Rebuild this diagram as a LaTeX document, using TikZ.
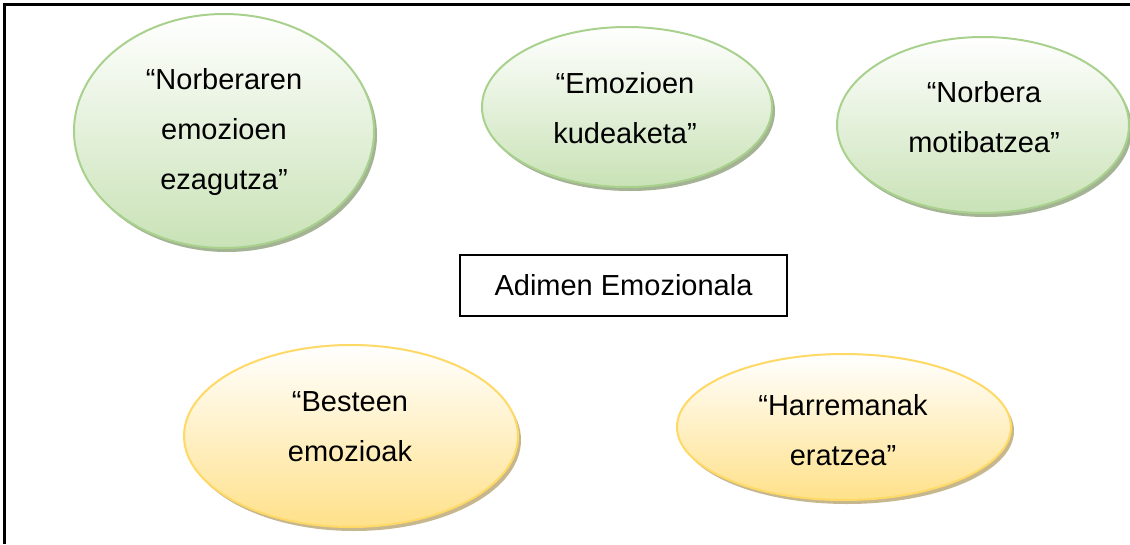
\documentclass[tikz,border=0pt]{standalone}
\usepackage{fontspec}
\setmainfont{Liberation Sans}
\usetikzlibrary{shapes.geometric,shadows}
\definecolor{gline}{HTML}{A9D18E}
\definecolor{gbot}{HTML}{C9E2B6}
\definecolor{gshad}{HTML}{A3B394}
\definecolor{yline}{HTML}{FFD966}
\definecolor{ybot}{HTML}{FFE18A}
\definecolor{yshad}{HTML}{C7B78E}
\tikzset{
  greenell/.style={ellipse, draw=gline, line width=2pt, top color=white, bottom color=gbot, inner sep=0pt,
    general shadow={fill=gshad, shadow xshift=3pt, shadow yshift=-4pt}},
  yellowell/.style={ellipse, draw=yline, line width=2pt, top color=white, bottom color=ybot, inner sep=0pt,
    general shadow={fill=yshad, shadow xshift=3pt, shadow yshift=-4pt}},
  etext/.style={align=center, anchor=north, inner sep=0pt, font={\fontsize{29}{50}\selectfont}},
  centerbox/.style={draw=black, line width=1.3pt, minimum width=327pt, minimum height=61pt, inner sep=0pt},
}
\begin{document}
\begin{tikzpicture}[x=1pt,y=-1pt]
\useasboundingbox (0,0) rectangle (1130,544);
\coordinate (tl) at (4.5,4.5);
\coordinate (tr) at (1130,4.5);
\coordinate (bl) at (4.5,544);
\draw[line width=2.6pt] (tr) -- (tl) -- (bl);

\node[greenell, minimum width=300pt, minimum height=234pt] (e1) at (224,131) {};
\node[greenell, minimum width=290pt, minimum height=160pt] (e2) at (627,107) {};
\node[greenell, minimum width=292pt, minimum height=176pt] (e3) at (983,125) {};
\node[yellowell, minimum width=334pt, minimum height=182pt] (e4) at (351,436) {};
\node[yellowell, minimum width=334pt, minimum height=146pt] (e5) at (844,427) {};

\node[etext] (t1) at (224,68) {“Norberaren\\emozioen\\ezagutza”};
\node[etext] (t2) at (625,72) {“Emozioen\\kudeaketa”};
\node[etext] (t3) at (984,81) {“Norbera\\motibatzea”};
\node[etext] (t4) at (350,391) {“Besteen\\emozioak};
\node[etext] (t5) at (843,394) {“Harremanak\\eratzea”};

\node[centerbox] (box) at (623.5,285.5) {};
\node[anchor=base, inner sep=0pt, font={\fontsize{29}{35}\selectfont}] (bt) at (623.5,295) {Adimen Emozionala};
\end{tikzpicture}
\end{document}
